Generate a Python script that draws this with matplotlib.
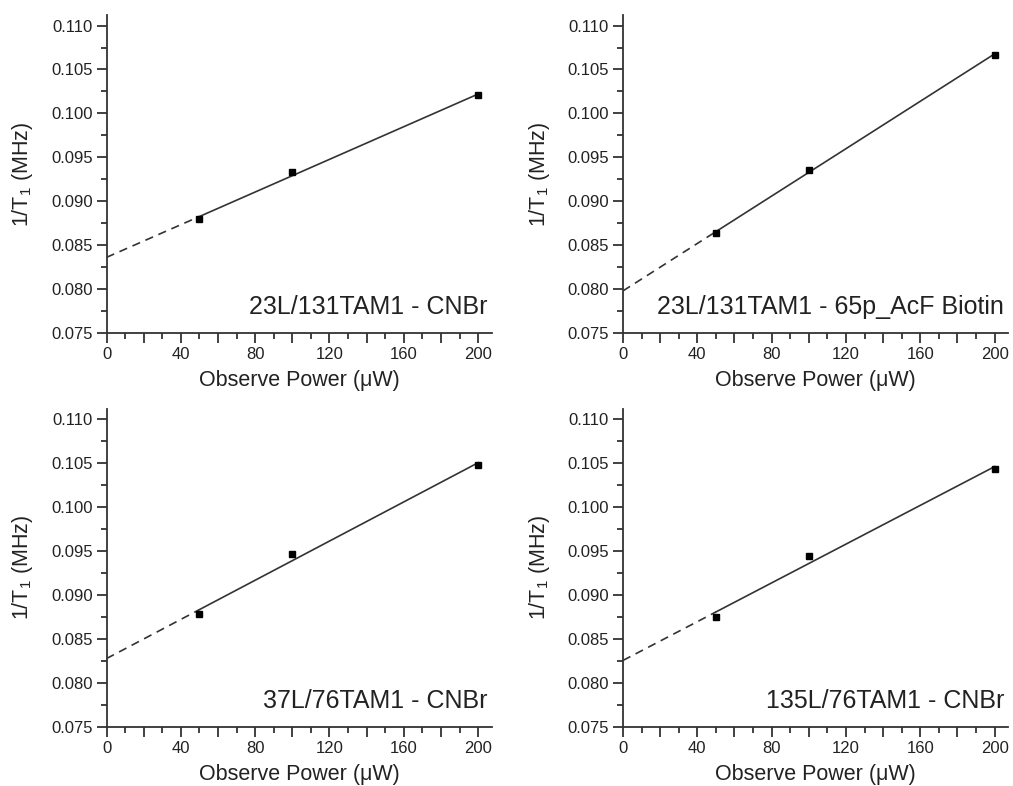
import numpy as np
import matplotlib
matplotlib.use("Agg")
import matplotlib.pyplot as plt
from matplotlib.ticker import MultipleLocator, FuncFormatter

plt.rcParams['font.family'] = ['Liberation Sans', 'DejaVu Sans']
plt.rcParams['mathtext.default'] = 'regular'

# Data
power = [50, 100, 200]
rate_23L_CNBr = [0.08795, 0.09337, 0.10205]
rate_23L_biotin = [0.08633, 0.09360, 0.10667]
rate_37L_CNBr = [0.08779, 0.09471, 0.10478]
rate_135L_CNBr = [0.08748, 0.09445, 0.10432]
labels = ["23L/131TAM1 - CNBr", "23L/131TAM1 - 65p_AcF Biotin",
          "37L/76TAM1 - CNBr", "135L/76TAM1 - CNBr"]
series = [rate_23L_CNBr, rate_23L_biotin, rate_37L_CNBr, rate_135L_CNBr]
xtick_labels = ["0", "40", "80", "120", "160", "200"]

W, H = 1013, 786
fig = plt.figure(figsize=(W / 100, H / 100), dpi=100)

ylim = (0.075, 0.1112)
xlim = (0, 207.3)
ax_w = 385.2 / W
ax_h = 318 / H
positions = [(106.5 / W, (H - 333) / H), (623 / W, (H - 333) / H),
             (106.5 / W, (H - 726.7) / H), (623 / W, (H - 726.7) / H)]
text_x = [0.99, 0.99, 0.99, 0.99]

dark = '#333333'
for (l, b), lab, y, tx in zip(positions, labels, series, text_x):
    ax = fig.add_axes([l, b, ax_w, ax_h])
    x = np.array(power, dtype=float)
    y = np.array(y)
    slope, icpt = np.polyfit(x, y, 1)
    xs = np.array([x.min(), x.max()])
    ax.plot(xs, icpt + slope * xs, color=dark, lw=1.2, zorder=2)
    xd = np.array([0, x.min()])
    ax.plot(xd, icpt + slope * xd, color=dark, lw=1.2, ls=(0, (5, 3.5)), zorder=2)
    ax.plot(x, y, 's', color='black', ms=4.8, zorder=3)

    ax.set_xlim(*xlim)
    ax.set_ylim(*ylim)
    for s in ['top', 'right']:
        ax.spines[s].set_visible(False)
    for s in ['left', 'bottom']:
        ax.spines[s].set_color(dark)
        ax.spines[s].set_linewidth(1.3)
    ax.xaxis.set_major_locator(MultipleLocator(20))
    ax.xaxis.set_minor_locator(MultipleLocator(10))
    lab_map = {int(t): t for t in xtick_labels}
    ax.xaxis.set_major_formatter(FuncFormatter(
        lambda v, p: lab_map.get(int(round(v)), "") if abs(v - round(v)) < 1e-6 else ""))
    ax.yaxis.set_major_locator(MultipleLocator(0.005))
    ax.yaxis.set_minor_locator(MultipleLocator(0.0025))
    ax.yaxis.set_major_formatter(FuncFormatter(lambda v, p: f"{v:.3f}"))
    ax.tick_params(which='major', direction='out', length=7, width=1.3, color=dark,
                   labelsize=12, labelcolor='#222222', pad=3)
    ax.tick_params(which='minor', direction='out', length=4, width=1.3, color=dark)
    ax.set_xlabel("Observe Power (\u03bcW)", fontsize=15.5, color='#222222', labelpad=6)
    ax.set_ylabel("1/T$_1$ (MHz)", fontsize=15.5, color='#222222')
    ax.yaxis.set_label_coords(-0.185, 0.5)
    ax.text(tx, 0.06, lab, transform=ax.transAxes, ha='right', va='baseline',
            fontsize=18, color='#222222', clip_on=False)
    ax.set_facecolor('none')

fig.savefig("out.png", dpi=100, facecolor='white')
